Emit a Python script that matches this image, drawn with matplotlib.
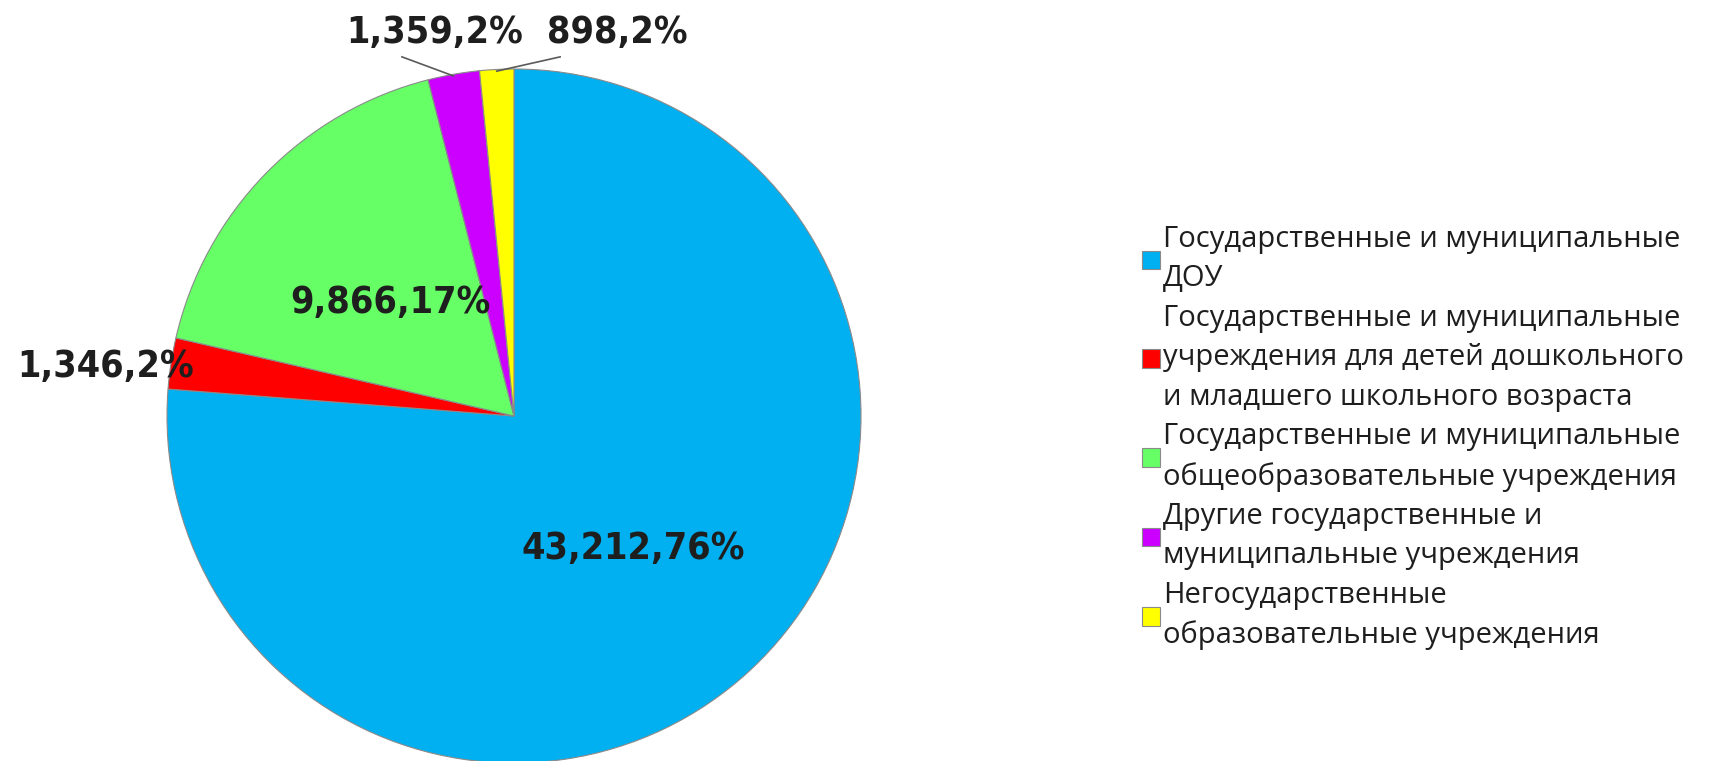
import matplotlib
matplotlib.use("Agg")
import matplotlib.pyplot as plt
from matplotlib import font_manager
import numpy as np

categories = [
    "Государственные и муниципальные\nДОУ",
    "Государственные и муниципальные\nучреждения для детей дошкольного\nи младшего школьного возраста",
    "Государственные и муниципальные\nобщеобразовательные учреждения",
    "Другие государственные и\nмуниципальные учреждения",
    "Негосударственные\nобразовательные учреждения",
]
values = [43212, 1346, 9866, 1359, 898]
colors = ["#00B0F0", "#FF0000", "#66FF66", "#CC00FF", "#FFFF00"]

# pick a narrow bold font for the value labels
names = {(f.name, f.stretch) for f in font_manager.fontManager.ttflist}
if any(n == "Liberation Sans Narrow" for n, s in names):
    lab_font = dict(family=["Liberation Sans Narrow", "DejaVu Sans"], fontsize=30)
elif any(n == "DejaVu Sans" and s == "condensed" for n, s in names):
    lab_font = dict(family=["DejaVu Sans"], fontstretch="condensed", fontsize=27)
else:
    lab_font = dict(family=["Roboto", "DejaVu Sans"], fontsize=25)

W, H = 1731, 761
fig = plt.figure(figsize=(W / 100, H / 100), dpi=100)
cx, cy, R = 514, 416, 347
ax = fig.add_axes([(cx - R) / W, (H - cy - R) / H, 2 * R / W, 2 * R / H])
wedges, _ = ax.pie(values, colors=colors, startangle=90, counterclock=False,
                   radius=1, wedgeprops=dict(edgecolor="#8a8a8a", linewidth=0.8))
ax.set_xlim(-1, 1)
ax.set_ylim(-1, 1)
ax.set_aspect("equal")
ax.axis("off")

total = sum(values)
labels = [f"{v:,},{round(100 * v / total)}%" for v in values]
# label placement (data units, radius = 1)
label_pos = [(0.343, -0.383), (-1.176, 0.141), (-0.357, 0.326), (-0.228, 1.105), (0.297, 1.105)]
for lab, (x, y) in zip(labels, label_pos):
    ax.text(x, y, lab, ha="center", va="center", fontweight="bold",
            color="#1e1e1e", clip_on=False, **lab_font)

# leader lines for small slices
for i, (x, y) in zip([3, 4], [(-0.323, 1.035), (0.133, 1.035)]):
    w = wedges[i]
    mid = np.deg2rad((w.theta1 + w.theta2) / 2)
    ax.plot([np.cos(mid), x], [np.sin(mid) * 0.995, y], color="#5a5a5a", lw=1.2, clip_on=False)

leg = fig.legend(wedges, categories, loc="upper left", bbox_to_anchor=(1142 / W, 1 - 225 / H),
                 frameon=False, prop=dict(family=["Open Sans", "DejaVu Sans"], size=21),
                 handlelength=0.6, handleheight=0.6, handletextpad=0.12, labelspacing=0.36,
                 borderpad=0, borderaxespad=0)
for t in leg.get_texts():
    t.set_linespacing(1.47)
    t.set_color("#1e1e1e")

fig.savefig("out.png", dpi=100, facecolor="white")
